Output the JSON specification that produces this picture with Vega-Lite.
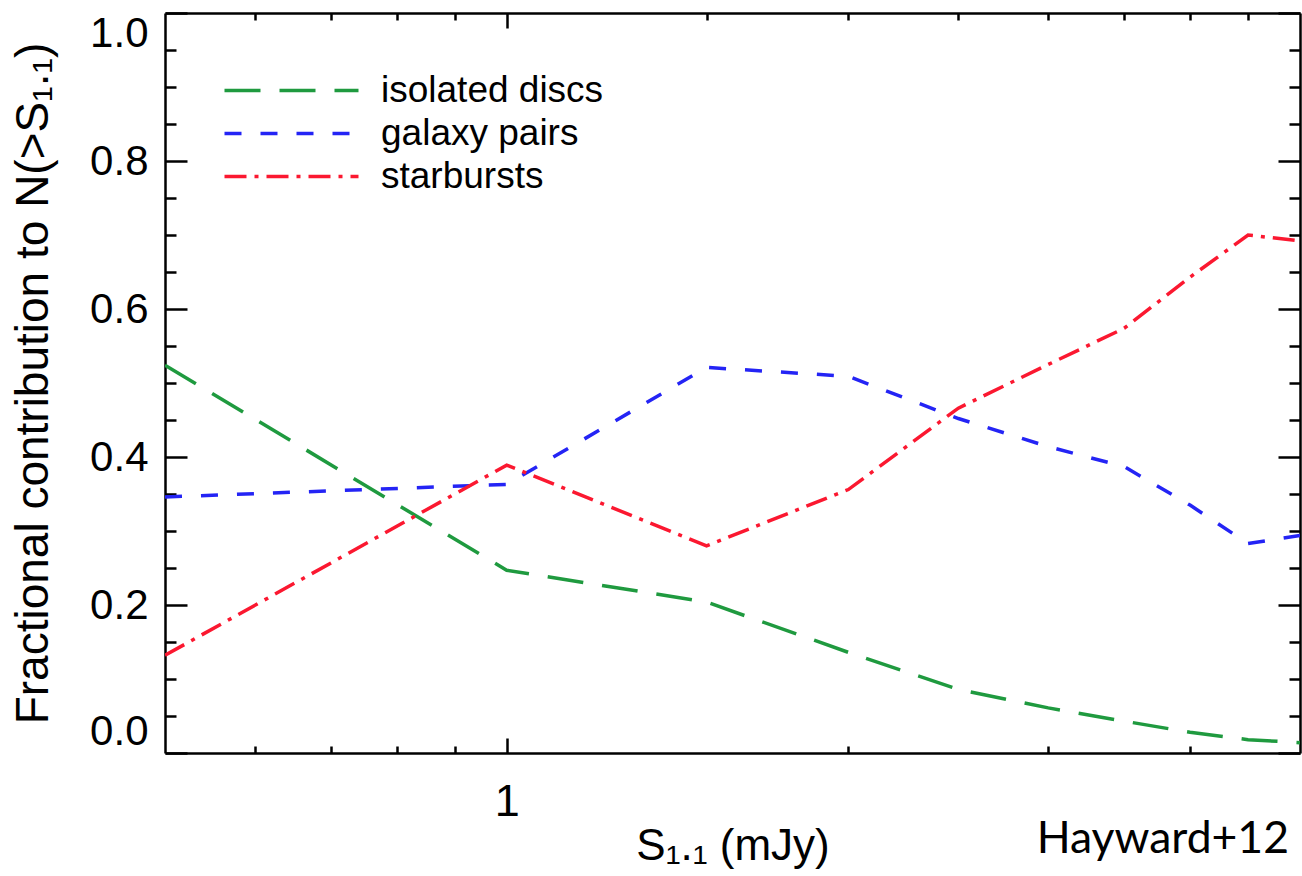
{
  "$schema": "https://vega.github.io/schema/vega-lite/v6.json",
  "width": 1135,
  "height": 740,
  "autosize": {"type": "none"},
  "padding": {"left": 165, "top": 13, "right": 2, "bottom": 123},
  "background": "white",
  "config": {"view": {"stroke": null}, "font": "Liberation Sans"},
  "title": {"text": "Hayward+12", "orient": "bottom", "anchor": "end", "frame": "group", "font": "Lato", "fontSize": 44.5, "fontWeight": "normal", "color": "black", "offset": -50, "dx": -11},
  "data": {"values": [
    {"S": 0.5, "frac": 0.524, "series": "isolated discs"},
    {"S": 1.0, "frac": 0.247, "series": "isolated discs"},
    {"S": 1.5, "frac": 0.204, "series": "isolated discs"},
    {"S": 2.0, "frac": 0.136, "series": "isolated discs"},
    {"S": 2.5, "frac": 0.086, "series": "isolated discs"},
    {"S": 3.0, "frac": 0.061, "series": "isolated discs"},
    {"S": 3.5, "frac": 0.043, "series": "isolated discs"},
    {"S": 4.0, "frac": 0.028, "series": "isolated discs"},
    {"S": 4.5, "frac": 0.018, "series": "isolated discs"},
    {"S": 5.0, "frac": 0.014, "series": "isolated discs"},
    {"S": 0.5, "frac": 0.346, "series": "galaxy pairs"},
    {"S": 1.0, "frac": 0.363, "series": "galaxy pairs"},
    {"S": 1.5, "frac": 0.521, "series": "galaxy pairs"},
    {"S": 2.0, "frac": 0.509, "series": "galaxy pairs"},
    {"S": 2.5, "frac": 0.452, "series": "galaxy pairs"},
    {"S": 3.0, "frac": 0.414, "series": "galaxy pairs"},
    {"S": 3.5, "frac": 0.387, "series": "galaxy pairs"},
    {"S": 4.0, "frac": 0.335, "series": "galaxy pairs"},
    {"S": 4.5, "frac": 0.283, "series": "galaxy pairs"},
    {"S": 5.0, "frac": 0.294, "series": "galaxy pairs"},
    {"S": 0.5, "frac": 0.132, "series": "starbursts"},
    {"S": 1.0, "frac": 0.389, "series": "starbursts"},
    {"S": 1.5, "frac": 0.280, "series": "starbursts"},
    {"S": 2.0, "frac": 0.356, "series": "starbursts"},
    {"S": 2.5, "frac": 0.466, "series": "starbursts"},
    {"S": 3.0, "frac": 0.525, "series": "starbursts"},
    {"S": 3.5, "frac": 0.574, "series": "starbursts"},
    {"S": 4.0, "frac": 0.643, "series": "starbursts"},
    {"S": 4.5, "frac": 0.700, "series": "starbursts"},
    {"S": 5.0, "frac": 0.692, "series": "starbursts"}
  ]},
  "layer": [
    {
      "mark": {"type": "line", "strokeWidth": 3.5, "clip": true},
      "encoding": {
        "x": {
          "field": "S", "type": "quantitative",
          "scale": {"type": "log", "domain": [0.5, 5], "nice": false},
          "axis": {
            "orient": "bottom",
            "values": [0.6, 0.7, 0.8, 0.9, 1, 2, 3, 4],
            "labelExpr": "datum.value == 1 ? '1' : ''",
            "tickSize": {"condition": {"test": "datum.value == 1", "value": -15}, "value": -7},
            "tickWidth": 2.5, "tickColor": "black",
            "domainColor": "black", "domainWidth": 2.5,
            "grid": false,
            "labelFont": "Liberation Sans", "labelFontSize": 45, "labelColor": "black", "labelPadding": 41, "labelFlush": false,
            "title": "S₁.₁ (mJy)",
            "titleFont": "Liberation Sans", "titleFontSize": 44, "titleFontWeight": "normal", "titleColor": "black", "titlePadding": 0
          }
        },
        "y": {
          "field": "frac", "type": "quantitative",
          "scale": {"domain": [0, 1], "nice": false},
          "axis": {
            "orient": "left",
            "values": [0, 0.05, 0.1, 0.15, 0.2, 0.25, 0.3, 0.35, 0.4, 0.45, 0.5, 0.55, 0.6, 0.65, 0.7, 0.75, 0.8, 0.85, 0.9, 0.95, 1],
            "labelExpr": "indexof([0, 0.2, 0.4, 0.6, 0.8, 1], datum.value) >= 0 ? format(datum.value, '.1f') : ''",
            "tickSize": {"condition": {"test": "indexof([0, 0.2, 0.4, 0.6, 0.8, 1], datum.value) >= 0", "value": -22}, "value": -11},
            "tickWidth": 2.5, "tickColor": "black",
            "domainColor": "black", "domainWidth": 2.5,
            "grid": false,
            "labelFont": "Liberation Sans", "labelFontSize": 42, "labelColor": "black", "labelPadding": 39, "labelFlush": true,
            "title": "Fractional contribution to N(>S₁.₁)",
            "titleFont": "Liberation Sans", "titleFontSize": 46, "titleFontWeight": "normal", "titleColor": "black", "titlePadding": 32
          }
        },
        "color": {
          "field": "series", "type": "nominal",
          "scale": {"domain": ["isolated discs", "galaxy pairs", "starbursts"], "range": ["#1f9a3f", "#2424f5", "#fb1830"]},
          "legend": {
            "title": null, "orient": "none", "legendX": 102, "legendY": 53,
            "symbolType": "M-3,0H3", "symbolSize": 1995, "symbolStrokeWidth": 3.5, "symbolFillColor": "transparent",
            "labelFont": "Liberation Sans", "labelFontSize": 37, "labelColor": "black", "labelOffset": 65,
            "rowPadding": -2, "labelLimit": 400
          }
        },
        "strokeDash": {
          "field": "series", "type": "nominal",
          "scale": {"domain": ["isolated discs", "galaxy pairs", "starbursts"], "range": [[36, 19], [17, 19], [22, 8, 4, 8]]},
          "legend": {
            "title": null, "orient": "none", "legendX": 102, "legendY": 53,
            "symbolType": "M-3,0H3", "symbolSize": 1995, "symbolStrokeWidth": 3.5, "symbolFillColor": "transparent",
            "labelFont": "Liberation Sans", "labelFontSize": 37, "labelColor": "black", "labelOffset": 65,
            "rowPadding": -2, "labelLimit": 400
          }
        }
      }
    },
    {
      "mark": {"type": "line", "strokeOpacity": 0},
      "encoding": {
        "x": {
          "field": "S", "type": "quantitative",
          "axis": {
            "orient": "top",
            "values": [0.6, 0.7, 0.8, 0.9, 1, 1.5, 2, 2.5, 3, 3.5, 4, 4.5],
            "labels": false, "title": null, "grid": false,
            "tickSize": {"condition": {"test": "datum.value == 1", "value": -15}, "value": -7},
            "tickWidth": 2.5, "tickColor": "black",
            "domainColor": "black", "domainWidth": 2.5
          }
        },
        "y": {
          "field": "frac", "type": "quantitative",
          "axis": {
            "orient": "right",
            "values": [0, 0.05, 0.1, 0.15, 0.2, 0.25, 0.3, 0.35, 0.4, 0.45, 0.5, 0.55, 0.6, 0.65, 0.7, 0.75, 0.8, 0.85, 0.9, 0.95, 1],
            "labels": false, "title": null, "grid": false,
            "tickSize": {"condition": {"test": "indexof([0, 0.2, 0.4, 0.6, 0.8, 1], datum.value) >= 0", "value": -22}, "value": -11},
            "tickWidth": 2.5, "tickColor": "black",
            "domainColor": "black", "domainWidth": 2.5
          }
        },
        "detail": {"field": "series", "type": "nominal"}
      }
    }
  ],
  "resolve": {"axis": {"x": "independent", "y": "independent"}}
}
